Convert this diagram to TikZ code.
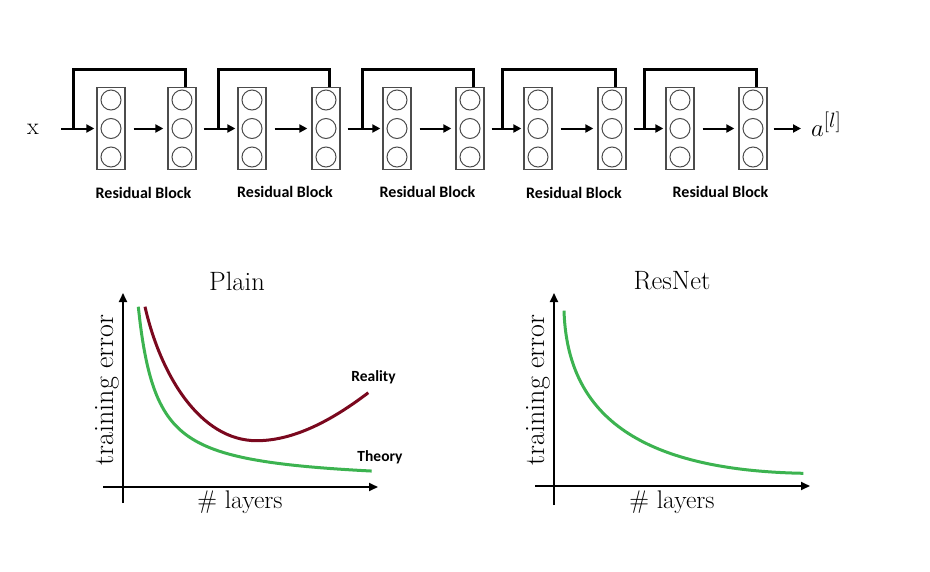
\documentclass[tikz,border=0pt]{standalone}
\usepackage{fontspec}
\setsansfont{Carlito}
\usetikzlibrary{arrows.meta}
\definecolor{curvegreen}{RGB}{60,179,80}
\definecolor{curvered}{RGB}{122,8,30}
\begin{document}
\begin{tikzpicture}[x=1pt,y=-1pt,
  layer/.style={draw=black!70, line width=1.3pt, minimum width=28pt, minimum height=82pt, inner sep=0pt},
  neuron/.style={circle, draw=black!70, line width=1pt, minimum size=20pt, inner sep=0pt},
  flow/.style={line width=2pt, -{Triangle[length=8pt,width=8pt]}},
  skipline/.style={line width=3pt},
  blocklabel/.style={font=\sffamily\bfseries\fontsize{16}{18}\selectfont},
  smalllabel/.style={font=\sffamily\bfseries\fontsize{15.5}{18}\selectfont},
  axis/.style={line width=1.8pt, -{Triangle[length=9pt,width=8pt]}},
  serif/.style={font=\fontsize{24}{28}\selectfont},
  titlefont/.style={font=\fontsize{26.5}{30}\selectfont},
  xlabelfont/.style={font=\fontsize{25.5}{30}\selectfont},
  ylabelfont/.style={font=\fontsize{28}{32}\selectfont},
  curveg/.style={draw=curvegreen, line width=3pt},
  curver/.style={draw=curvered, line width=3pt},
]
\useasboundingbox (0,0) rectangle (930,571);

% layers
\foreach \n/\x in {b1a/111,b1b/182,b2a/252,b2b/326,b3a/397,b3b/470,b4a/538,b4b/612,b5a/680,b5b/753}{
  \node[layer] (\n) at (\x,128.5) {};
  \foreach \k/\dy in {1/-28.5,2/0,3/28.5}
    \node[neuron] (\n\k) at (\x,128.5+\dy) {};
}

% input / output
\node[serif, anchor=center] (x) at (33,129) {x};
\node[font=\fontsize{28}{32}\selectfont, anchor=west, inner sep=0pt] (out) at (811,124) {$a^{[l]}$};
\coordinate (xin) at (61,128.5);
\coordinate (aout) at (801,128.5);

% main flow arrows
\draw[flow, shorten >=2pt] (xin) -- (b1a.west);
\foreach \a/\b in {b1a/b1b,b2a/b2b,b3a/b3b,b4a/b4b,b5a/b5b}
  \draw[flow, shorten <=8pt, shorten >=4pt] (\a.east) -- (\b.west);
\foreach \a/\b in {b1b/b2a,b2b/b3a,b3b/b4a,b4b/b5a}
  \draw[flow, shorten <=7pt, shorten >=2pt] (\a.east) -- (\b.west);
\draw[flow, shorten <=6pt] (b5b.east) -- (aout);

% skip connections
\coordinate (s1) at (73,128.5);
\coordinate (s2) at (218,128.5);
\coordinate (s3) at (362,128.5);
\coordinate (s4) at (502,128.5);
\coordinate (s5) at (644,128.5);
\foreach \s/\b in {s1/b1b,s2/b2b,s3/b3b,s4/b4b,s5/b5b}
  \draw[skipline] (\s) |- ([xshift=3pt,yshift=17.5pt]\b.north) -- ([xshift=3pt]\b.north);

% block labels
\node[blocklabel] (l1) at (143.5,193) {Residual Block};
\node[blocklabel] (l2) at (285,192) {Residual Block};
\node[blocklabel] (l3) at (427.5,192) {Residual Block};
\node[blocklabel] (l4) at (574,193) {Residual Block};
\node[blocklabel] (l5) at (720.5,192) {Residual Block};

% Plain plot
\draw[axis] (123,503) -- (123,293);
\draw[axis] (103,487) -- (378,487);
\node[titlefont] (t1) at (237,281) {Plain};
\node[ylabelfont, rotate=90] (y1) at (107,390) {training error};
\node[xlabelfont] (xl1) at (240,502) {\# layers};
\draw[curveg] plot[domain=138.3:371.7, samples=120, smooth] (\x, {484 - 3262/(\x-119.9)});
\draw[curver] (145,306.7) .. controls (160.5,375) and (200,440.7) .. (256.7,440.7)
  .. controls (296.7,440.7) and (336.5,416.9) .. (368.3,392.7);
\node[smalllabel] (real) at (373.5,377) {Reality};
\node[smalllabel] (theo) at (380,457) {Theory};

% ResNet plot
\draw[axis] (554,505) -- (554,293);
\draw[axis] (535,486) -- (810,486);
\node[titlefont] (t2) at (672,281) {ResNet};
\node[ylabelfont, rotate=90] (y2) at (538,390) {training error};
\node[xlabelfont] (xl2) at (672,502) {\# layers};
\draw[curveg] (564,310.7) .. controls (567,405) and (625,470) .. (803.3,473.3);
\end{tikzpicture}
\end{document}
